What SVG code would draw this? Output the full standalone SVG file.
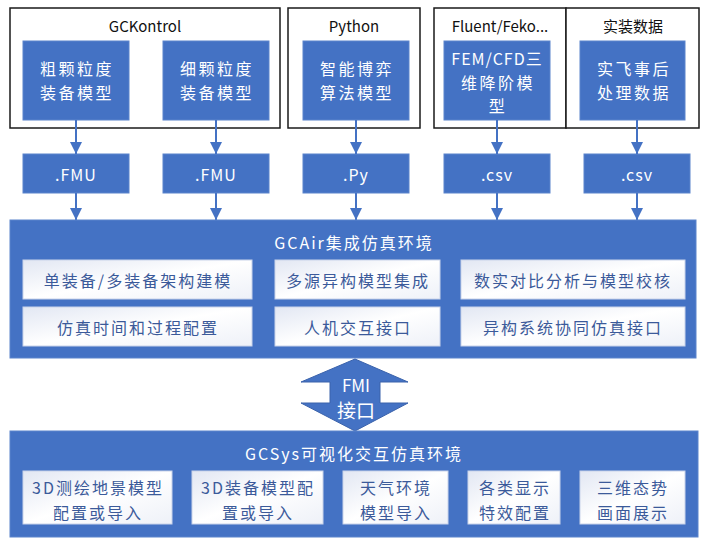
<svg xmlns="http://www.w3.org/2000/svg" width="704" height="544" viewBox="0 0 704 544">
<defs>
<style>
.frame{fill:#fff;stroke:#1a1a1a;stroke-width:1.5}
.blue{fill:#4472C4;stroke:#5b84cc;stroke-width:1}
.wt{fill:url(#wg);stroke:#c9d3ea;stroke-width:1}
.t{font-family:"Noto Sans CJK SC","Noto Sans",sans-serif;text-anchor:middle;dominant-baseline:central}
.title{font-size:15px;fill:#111}
.bt{font-size:16px;fill:#fff;letter-spacing:2.5px}
.ft{font-size:16px;fill:#fff;letter-spacing:1px}
.ht{font-size:16px;fill:#fff;letter-spacing:2px}
.it{font-size:16px;fill:#3b5a9a;letter-spacing:2px}
.conn{stroke:#4472C4;stroke-width:2;fill:none}
</style>
<linearGradient id="wg" x1="0" y1="0" x2="1" y2="1">
<stop offset="0" stop-color="#e2e7f3"/>
<stop offset="0.5" stop-color="#ffffff"/>
<stop offset="1" stop-color="#eef1f8"/>
</linearGradient>
<marker id="ah" markerWidth="12" markerHeight="12" refX="12" refY="6" orient="auto" markerUnits="userSpaceOnUse">
<path d="M0,0 L12,6 L0,12 Z" fill="#4472C4"/>
</marker>
</defs>

<g id="gckontrol">
<rect class="frame" x="10" y="8" width="270" height="120"/>
<text class="t title" x="145" y="25">GCKontrol</text>
</g>
<g id="python">
<rect class="frame" x="288" y="8" width="132" height="120"/>
<text class="t title" x="354" y="25">Python</text>
</g>
<g id="fluent">
<rect class="frame" x="434" y="8" width="132" height="120"/>
<text class="t title" x="500" y="25">Fluent/Feko...</text>
</g>
<g id="shizhuang">
<rect class="frame" x="566" y="8" width="133" height="120"/>
<text class="t title" x="633" y="25">实装数据</text>
</g>

<g id="coarse">
<rect class="blue" x="23" y="41" width="106" height="79"/>
<text class="t bt" x="77" y="68">粗颗粒度</text>
<text class="t bt" x="77" y="92">装备模型</text>
</g>
<g id="fine">
<rect class="blue" x="163" y="41" width="106" height="79"/>
<text class="t bt" x="217" y="68">细颗粒度</text>
<text class="t bt" x="217" y="92">装备模型</text>
</g>
<g id="game">
<rect class="blue" x="303" y="41" width="106" height="79"/>
<text class="t bt" x="357" y="68">智能博弈</text>
<text class="t bt" x="357" y="92">算法模型</text>
</g>
<g id="fem">
<rect class="blue" x="444" y="41" width="106" height="79"/>
<text class="t ft" x="497" y="58">FEM/CFD三</text>
<text class="t bt" x="498" y="82">维降阶模</text>
<text class="t bt" x="498" y="105">型</text>
</g>
<g id="flight">
<rect class="blue" x="580" y="41" width="105" height="79"/>
<text class="t bt" x="634" y="68">实飞事后</text>
<text class="t bt" x="634" y="92">处理数据</text>
</g>

<g id="fmu1">
<rect class="blue" x="23" y="154" width="106" height="39"/>
<text class="t ft" x="76" y="174">.FMU</text>
</g>
<g id="fmu2">
<rect class="blue" x="163" y="154" width="106" height="39"/>
<text class="t ft" x="216" y="174">.FMU</text>
</g>
<g id="py">
<rect class="blue" x="303" y="154" width="106" height="39"/>
<text class="t ft" x="356" y="174">.Py</text>
</g>
<g id="csv1">
<rect class="blue" x="444" y="154" width="106" height="39"/>
<text class="t ft" x="497" y="174">.csv</text>
</g>
<g id="csv2">
<rect class="blue" x="584" y="154" width="106" height="39"/>
<text class="t ft" x="637" y="174">.csv</text>
</g>

<g id="connectors">
<line class="conn" x1="76" y1="120" x2="76" y2="154" marker-end="url(#ah)"/>
<line class="conn" x1="216" y1="120" x2="216" y2="154" marker-end="url(#ah)"/>
<line class="conn" x1="356" y1="120" x2="356" y2="154" marker-end="url(#ah)"/>
<line class="conn" x1="497" y1="120" x2="497" y2="154" marker-end="url(#ah)"/>
<line class="conn" x1="637" y1="120" x2="637" y2="154" marker-end="url(#ah)"/>
<line class="conn" x1="76" y1="193" x2="76" y2="220" marker-end="url(#ah)"/>
<line class="conn" x1="216" y1="193" x2="216" y2="220" marker-end="url(#ah)"/>
<line class="conn" x1="356" y1="193" x2="356" y2="220" marker-end="url(#ah)"/>
<line class="conn" x1="497" y1="193" x2="497" y2="220" marker-end="url(#ah)"/>
<line class="conn" x1="637" y1="193" x2="637" y2="220" marker-end="url(#ah)"/>
</g>

<g id="gcair">
<rect class="blue" x="10" y="220" width="686" height="138"/>
<text class="t ht" x="354" y="242">GCAir集成仿真环境</text>
</g>
<g id="gcair-1">
<rect class="wt" x="23" y="260" width="229" height="39"/>
<text class="t it" x="138" y="280">单装备/多装备架构建模</text>
</g>
<g id="gcair-2">
<rect class="wt" x="275" y="260" width="165" height="39"/>
<text class="t it" x="358" y="280">多源异构模型集成</text>
</g>
<g id="gcair-3">
<rect class="wt" x="461" y="260" width="224" height="39"/>
<text class="t it" x="573" y="280">数实对比分析与模型校核</text>
</g>
<g id="gcair-4">
<rect class="wt" x="23" y="307" width="229" height="39"/>
<text class="t it" x="138" y="327">仿真时间和过程配置</text>
</g>
<g id="gcair-5">
<rect class="wt" x="275" y="307" width="165" height="39"/>
<text class="t it" x="358" y="327">人机交互接口</text>
</g>
<g id="gcair-6">
<rect class="wt" x="461" y="307" width="224" height="39"/>
<text class="t it" x="573" y="327">异构系统协同仿真接口</text>
</g>

<g id="fmi">
<path d="M355,359 L408,382 L380,382 L380,403 L408,403 L355,431 L301,403 L330,403 L330,382 L301,382 Z" fill="#4472C4" stroke="#3a62ab" stroke-width="1"/>
<text class="t" x="356" y="384" style="font-size:17px;fill:#fff">FMI</text>
<text class="t" x="356" y="409" style="font-size:19px;fill:#fff">接口</text>
</g>

<g id="gcsys">
<rect class="blue" x="10" y="431" width="688" height="106"/>
<text class="t ht" x="354" y="453">GCSys可视化交互仿真环境</text>
</g>
<g id="gcsys-1">
<rect class="wt" x="23" y="471" width="149" height="53"/>
<text class="t it" x="98" y="487">3D测绘地景模型</text>
<text class="t it" x="98" y="512">配置或导入</text>
</g>
<g id="gcsys-2">
<rect class="wt" x="192" y="471" width="131" height="53"/>
<text class="t it" x="258" y="487">3D装备模型配</text>
<text class="t it" x="258" y="512">置或导入</text>
</g>
<g id="gcsys-3">
<rect class="wt" x="343" y="471" width="105" height="53"/>
<text class="t it" x="396" y="487">天气环境</text>
<text class="t it" x="396" y="512">模型导入</text>
</g>
<g id="gcsys-4">
<rect class="wt" x="468" y="471" width="92" height="53"/>
<text class="t it" x="515" y="487">各类显示</text>
<text class="t it" x="515" y="512">特效配置</text>
</g>
<g id="gcsys-5">
<rect class="wt" x="580" y="471" width="105" height="53"/>
<text class="t it" x="633" y="487">三维态势</text>
<text class="t it" x="633" y="512">画面展示</text>
</g>
</svg>
